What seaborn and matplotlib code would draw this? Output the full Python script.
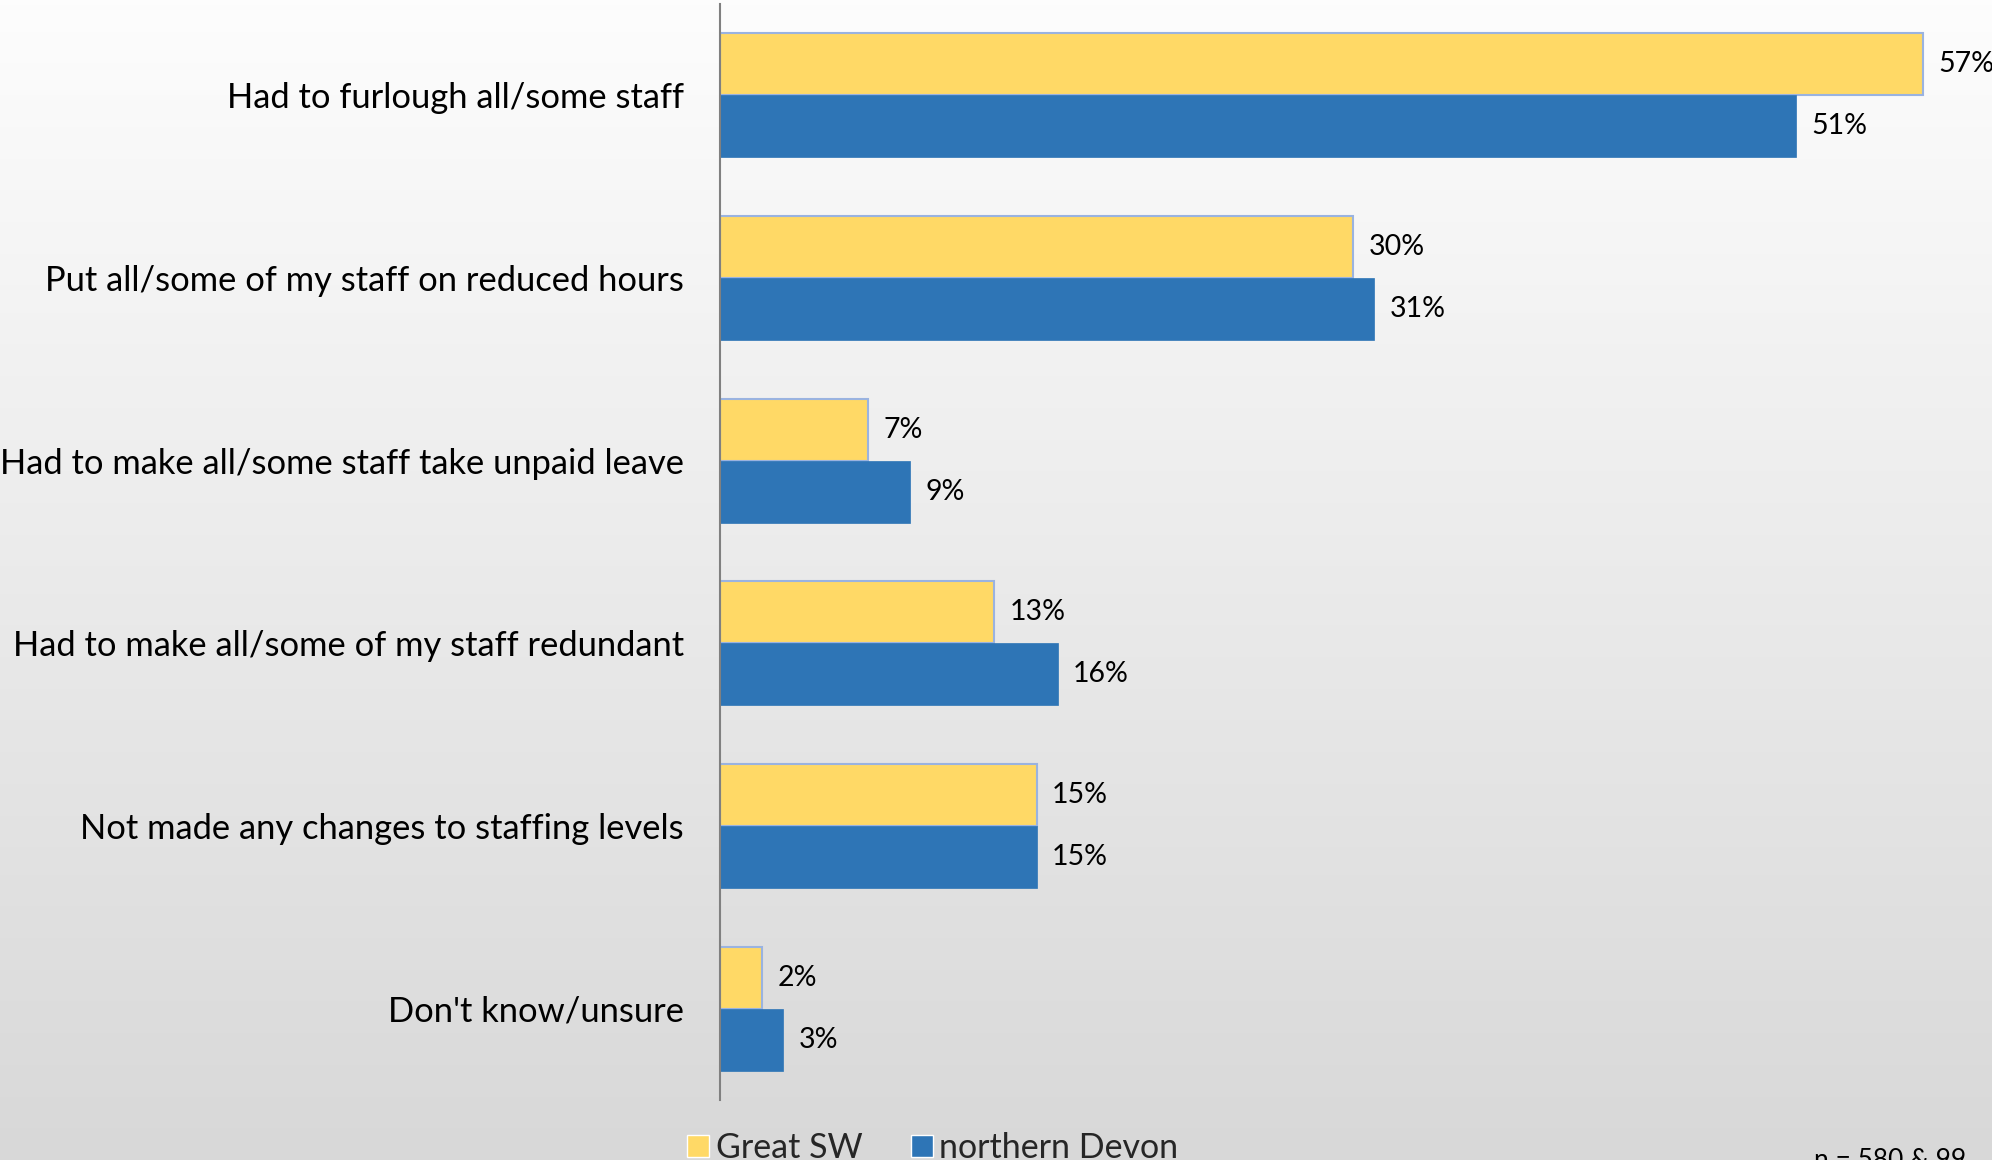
import numpy as np
import pandas as pd
import matplotlib
matplotlib.use("Agg")
import matplotlib.pyplot as plt
import seaborn as sns

# Survey responses: change to staffing since the outbreak
categories = [
    "Had to furlough all/some staff",
    "Put all/some of my staff on reduced hours",
    "Had to make all/some staff take unpaid leave",
    "Had to make all/some of my staff redundant",
    "Not made any changes to staffing levels",
    "Don't know/unsure",
]
great_sw = [57, 30, 7, 13, 15, 2]
northern_devon = [51, 31, 9, 16, 15, 3]
series_names = ["Great SW", "northern Devon"]
sample_note = "n = 580 & 99"

df = pd.DataFrame({
    "category": categories * 2,
    "region": [series_names[0]] * len(categories) + [series_names[1]] * len(categories),
    "pct": great_sw + northern_devon,
})

sns.set_theme(style="white")
plt.rcParams["font.family"] = ["Lato", "DejaVu Sans"]

W, H = 1992, 1160
fig = plt.figure(figsize=(W / 100, H / 100), dpi=100)

# soft vertical background gradient
bg = fig.add_axes([0, 0, 1, 1], zorder=-10)
grad = np.linspace(0, 1, 256).reshape(-1, 1)
top = np.array([0xFD, 0xFD, 0xFD]) / 255
bot = np.array([0xD8, 0xD8, 0xD8]) / 255
img = top + (bot - top) * grad[..., None]
bg.imshow(img, aspect="auto", extent=[0, 1, 0, 1], origin="upper")
bg.set_axis_off()

ax = fig.add_axes([720 / W, 1 - 1100 / H, 1 - 720 / W, (1100 - 4) / H])
ax.patch.set_alpha(0)

palette = {"Great SW": "#FFD966", "northern Devon": "#2E75B6"}
sns.barplot(data=df, y="category", x="pct", hue="region", hue_order=series_names,
            order=categories, palette=palette, orient="h", width=0.68, gap=0,
            saturation=1, ax=ax, legend=True)

edge = {"Great SW": "#9AB3E0", "northern Devon": "#2E75B6"}
for cont, name in zip(ax.containers, series_names):
    for p in cont.patches:
        p.set_edgecolor(edge[name])
        p.set_linewidth(1.5 if name == "Great SW" else 0.5)
    vals = great_sw if name == "Great SW" else northern_devon
    ax.bar_label(cont, labels=[f"{v}%" for v in vals], padding=11,
                 fontsize=20.5, color="#000000")

ax.set_xlim(0, (W - 720) / (1923 - 720) * 57)
ax.set_ylim(len(categories) - 0.5, -0.5)
ax.set_xlabel("")
ax.set_ylabel("")
ax.set_xticks([])
ax.tick_params(axis="y", length=0, pad=26, labelsize=24.8, labelcolor="#000000")
for s in ["top", "right", "bottom"]:
    ax.spines[s].set_visible(False)
ax.spines["left"].set_color("#808080")
ax.spines["left"].set_linewidth(1.5)

handles, labels = ax.get_legend_handles_labels()
ax.get_legend().remove()
fig.legend(handles, labels, loc="center left", bbox_to_anchor=(0.345, 1 - 1148 / H),
           ncol=2, frameon=False, fontsize=24.5, handlelength=0.65, handleheight=0.65,
           handletextpad=0.2, columnspacing=1.4, borderaxespad=0, borderpad=0)

fig.text(1814 / W, 1 - 1160 / H, sample_note, fontsize=19, ha="left", va="center",
         color="#000000")

fig.savefig("out.png", dpi=100)
